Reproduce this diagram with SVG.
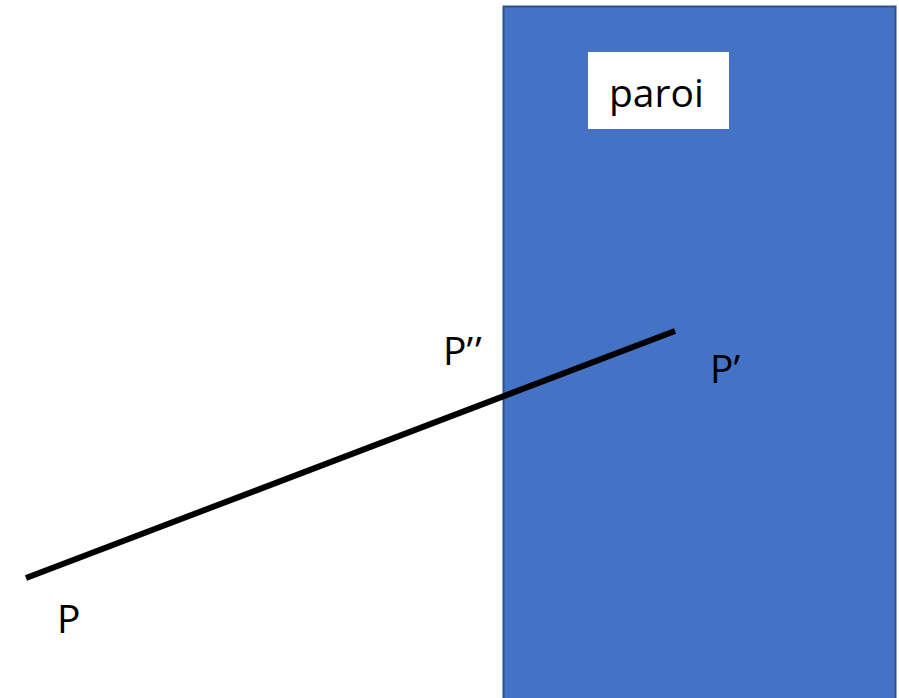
<svg xmlns="http://www.w3.org/2000/svg" width="899" height="698" viewBox="0 0 899 698">
<style>
.lbl{font-family:"Open Sans","Liberation Sans",sans-serif;font-size:39px;fill:#000}
</style>
<rect width="899" height="698" fill="#fff"/>
<g id="paroi">
<rect x="503.5" y="6.5" width="392" height="700" fill="#4472C4" stroke="#2F528F" stroke-width="2"/>
<rect x="588" y="52" width="141" height="77" fill="#fff"/>
<text class="lbl" x="609" y="107">paroi</text>
</g>
<g id="connectors">
<line x1="26" y1="578" x2="675" y2="331" stroke="#000" stroke-width="6"/>
</g>
<g id="P"><text class="lbl" x="57" y="633">P</text></g>
<g id="P2"><text class="lbl" x="443" y="365">P’<tspan dx="2">’</tspan></text></g>
<g id="P1"><text class="lbl" x="710" y="383">P’</text></g>
</svg>
